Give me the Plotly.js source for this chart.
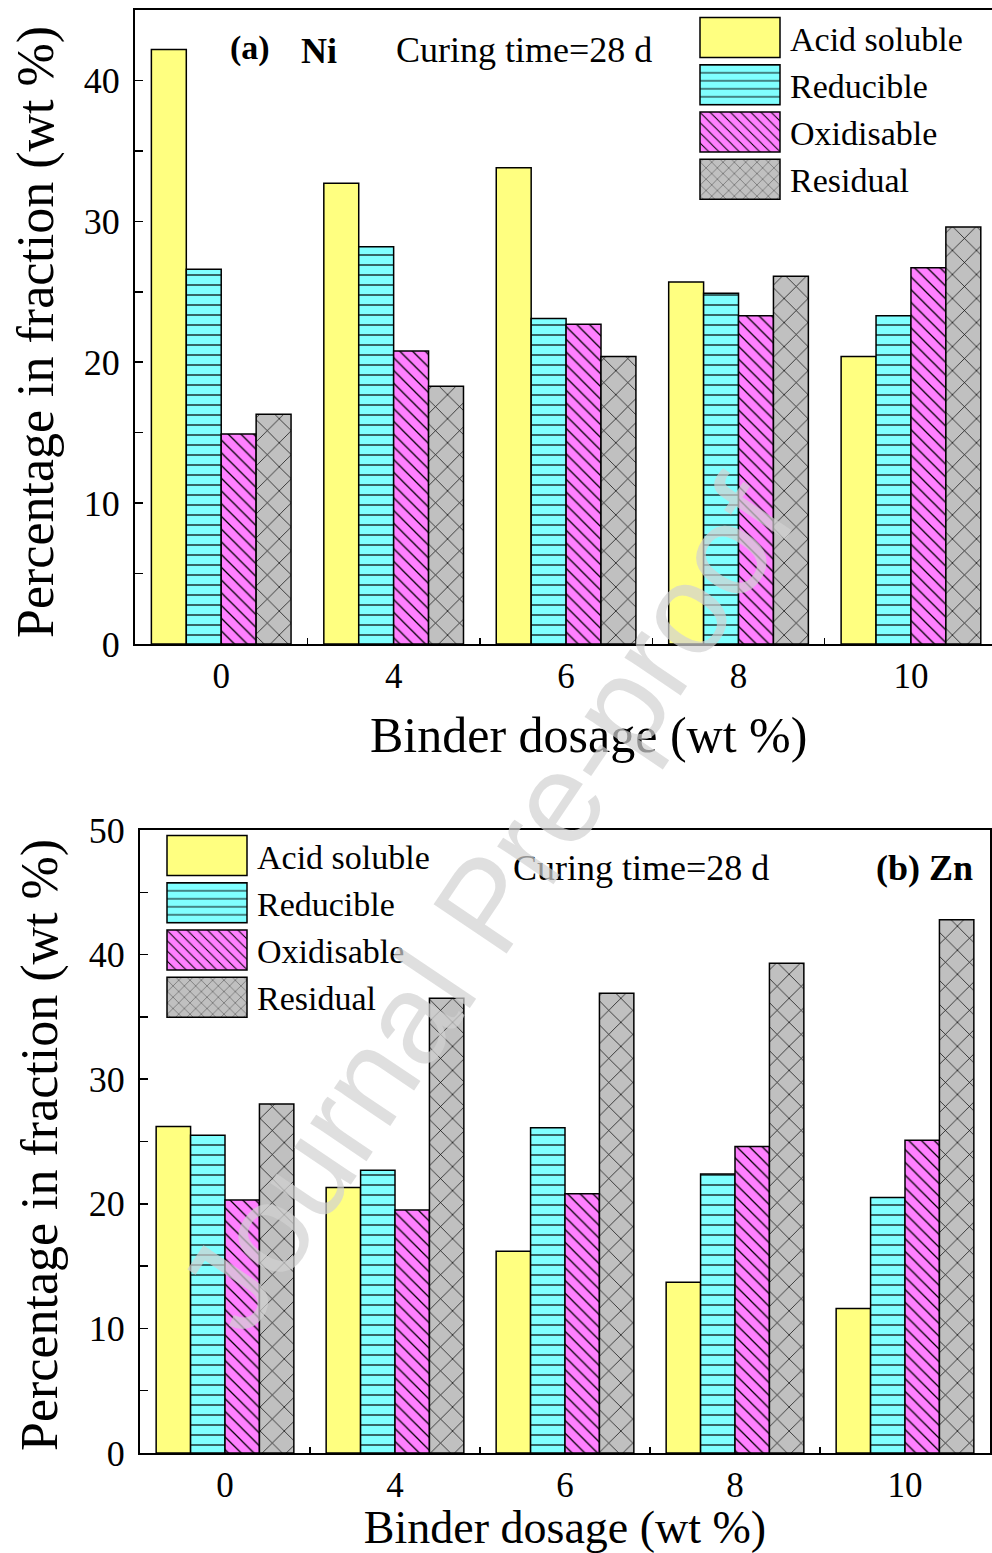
<!DOCTYPE html>
<html>
<head>
<meta charset="utf-8">
<script src="https://cdn.plot.ly/plotly-3.0.1.min.js"></script>
<style>html,body{margin:0;padding:0;background:#fff;}#chart{width:992px;height:1553px;}</style>
</head>
<body>
<div id="chart"></div>
<script>
// ---- data ----
const categories = ['0', '4', '6', '8', '10'];
const seriesNames = ['Acid soluble', 'Reducible', 'Oxidisable', 'Residual'];
const niAcid = [42.2, 32.7, 33.8, 25.7, 20.4];
const niReducible = [26.6, 28.2, 23.1, 24.9, 23.3];
const niOxidisable = [14.9, 20.8, 22.7, 23.3, 26.7];
const niResidual = [16.3, 18.3, 20.4, 26.1, 29.6];
const znAcid = [26.2, 21.3, 16.2, 13.7, 11.6];
const znReducible = [25.5, 22.7, 26.1, 22.4, 20.5];
const znOxidisable = [20.3, 19.5, 20.8, 24.6, 25.1];
const znResidual = [28.0, 36.5, 36.9, 39.3, 42.8];
const xTitle = 'Binder dosage (wt %)';
const yTitle = 'Percentage in fraction (wt %)';
const note = 'Curing time=28 d';

// ---- styles ----
const FONT = 'Liberation Serif, Times New Roman, serif';
const fills = ['#FFFF80', '#80FFFF', '#FF80FF', '#C0C0C0'];
const patterns = [
  {shape: ''},
  {shape: '-', size: 10, solidity: 0.12},
  {shape: '\\', size: 9, solidity: 0.14},
  {shape: 'x', size: 17, solidity: 0.08}
];

function mk(values, i, xa, ya, leg) {
  const p = Object.assign({}, patterns[i], {fgcolor: '#000', bgcolor: fills[i], fillmode: 'replace'});
  return {
    type: 'bar', x: categories, y: values, name: seriesNames[i],
    xaxis: xa, yaxis: ya, legend: leg,
    marker: {color: fills[i], pattern: p, line: {color: '#000', width: 1.5}},
    hoverinfo: 'skip'
  };
}

const traces = [
  mk(niAcid, 0, 'x', 'y', 'legend'),
  mk(niReducible, 1, 'x', 'y', 'legend'),
  mk(niOxidisable, 2, 'x', 'y', 'legend'),
  mk(niResidual, 3, 'x', 'y', 'legend'),
  mk(znAcid, 0, 'x2', 'y2', 'legend2'),
  mk(znReducible, 1, 'x2', 'y2', 'legend2'),
  mk(znOxidisable, 2, 'x2', 'y2', 'legend2'),
  mk(znResidual, 3, 'x2', 'y2', 'legend2')
];

const W = 992, H = 1553;
const px = v => v / W;
const py = v => (H - v) / H;

function xAxis(domain, anchor, range) {
  return {
    domain: domain, anchor: anchor, type: 'category', range: range,
    showline: true, linecolor: '#000', linewidth: 2, mirror: true,
    ticks: 'inside', tickson: 'boundaries', ticklen: 6, tickcolor: '#000', tickwidth: 1.5,
    showgrid: false, zeroline: false,
    tickfont: {family: FONT, size: 35, color: '#000'}
  };
}
function yAxis(domain, anchor, range) {
  return {
    domain: domain, anchor: anchor, range: range, dtick: 10,
    showline: true, linecolor: '#000', linewidth: 2, mirror: true,
    ticks: 'inside', ticklen: 8, tickcolor: '#000', tickwidth: 1.5,
    minor: {dtick: 5, ticks: 'inside', ticklen: 8, tickcolor: '#000', tickwidth: 1.5, showgrid: false},
    showgrid: false, zeroline: false, ticklabelstandoff: 6,
    tickfont: {family: FONT, size: 36, color: '#000'}
  };
}

const legendBase = {
  bgcolor: 'rgba(0,0,0,0)', borderwidth: 0, itemwidth: 90,
  font: {family: FONT, size: 34, color: '#000'},
  xanchor: 'left', yanchor: 'top', traceorder: 'normal', itemclick: false
};

function ann(text, x, y, size, angle) {
  return {text: text, x: px(x), y: py(y), xref: 'paper', yref: 'paper', xanchor: 'center', yanchor: 'middle',
          showarrow: false, textangle: angle || 0, font: {family: FONT, size: size, color: '#000'}};
}

const xaxis2 = xAxis([px(140), px(990)], 'y2', [-0.5, 4.5]);
xaxis2.title = {text: xTitle, font: {family: FONT, size: 46, color: '#000'}, standoff: 24};

const layout = {
  width: W, height: H,
  margin: {l: 0, r: 0, t: 0, b: 0},
  paper_bgcolor: '#fff', plot_bgcolor: '#fff',
  barmode: 'group', bargap: 0.19, bargroupgap: 0,
  showlegend: true,
  font: {family: FONT, color: '#000'},
  xaxis: xAxis([px(135), 1], 'y', [-0.5, 4.47]),
  yaxis: yAxis([py(644), py(10)], 'x', [0, 45]),
  xaxis2: xaxis2,
  yaxis2: yAxis([py(1453), py(830)], 'x2', [0, 50]),
  legend: Object.assign({}, legendBase, {x: px(690), y: py(9)}),
  legend2: Object.assign({}, legendBase, {x: px(157), y: py(827)}),
  annotations: [
    ann(xTitle, 588, 735, 50),
    ann(yTitle, 36, 332, 52, -90),
    ann(yTitle, 40, 1145, 52, -90),
    ann('<b>(a)</b>', 250, 48, 34),
    ann('<b>Ni</b>', 319, 51, 36),
    ann(note, 524, 50, 36),
    ann(note, 641, 868, 36),
    ann('<b>(b) Zn</b>', 924, 868, 36),
    {text: 'Journal Pre-proof', x: px(485), y: py(905), xref: 'paper', yref: 'paper', xanchor: 'center', yanchor: 'middle',
     showarrow: false, textangle: -56,
     font: {family: 'Liberation Sans, Arial, sans-serif', size: 128, color: 'rgba(210,210,210,0.7)'}}
  ]
};

const BIG = 'M40,20H-40V-20H40Z';
function fixLegend() {
  document.querySelectorAll('#chart .legendpoints path').forEach(function (p) {
    if (p.getAttribute('d') !== BIG) p.setAttribute('d', BIG);
  });
}
const gd = document.getElementById('chart');
new MutationObserver(fixLegend).observe(gd, {subtree: true, childList: true, attributes: true, attributeFilter: ['d']});

Plotly.newPlot(gd, traces, layout, {staticPlot: true, displayModeBar: false}).then(function () {
  fixLegend();
  gd.on && gd.on('plotly_afterplot', fixLegend);
  setTimeout(fixLegend, 50);
  setTimeout(fixLegend, 300);
});
</script>
</body>
</html>
